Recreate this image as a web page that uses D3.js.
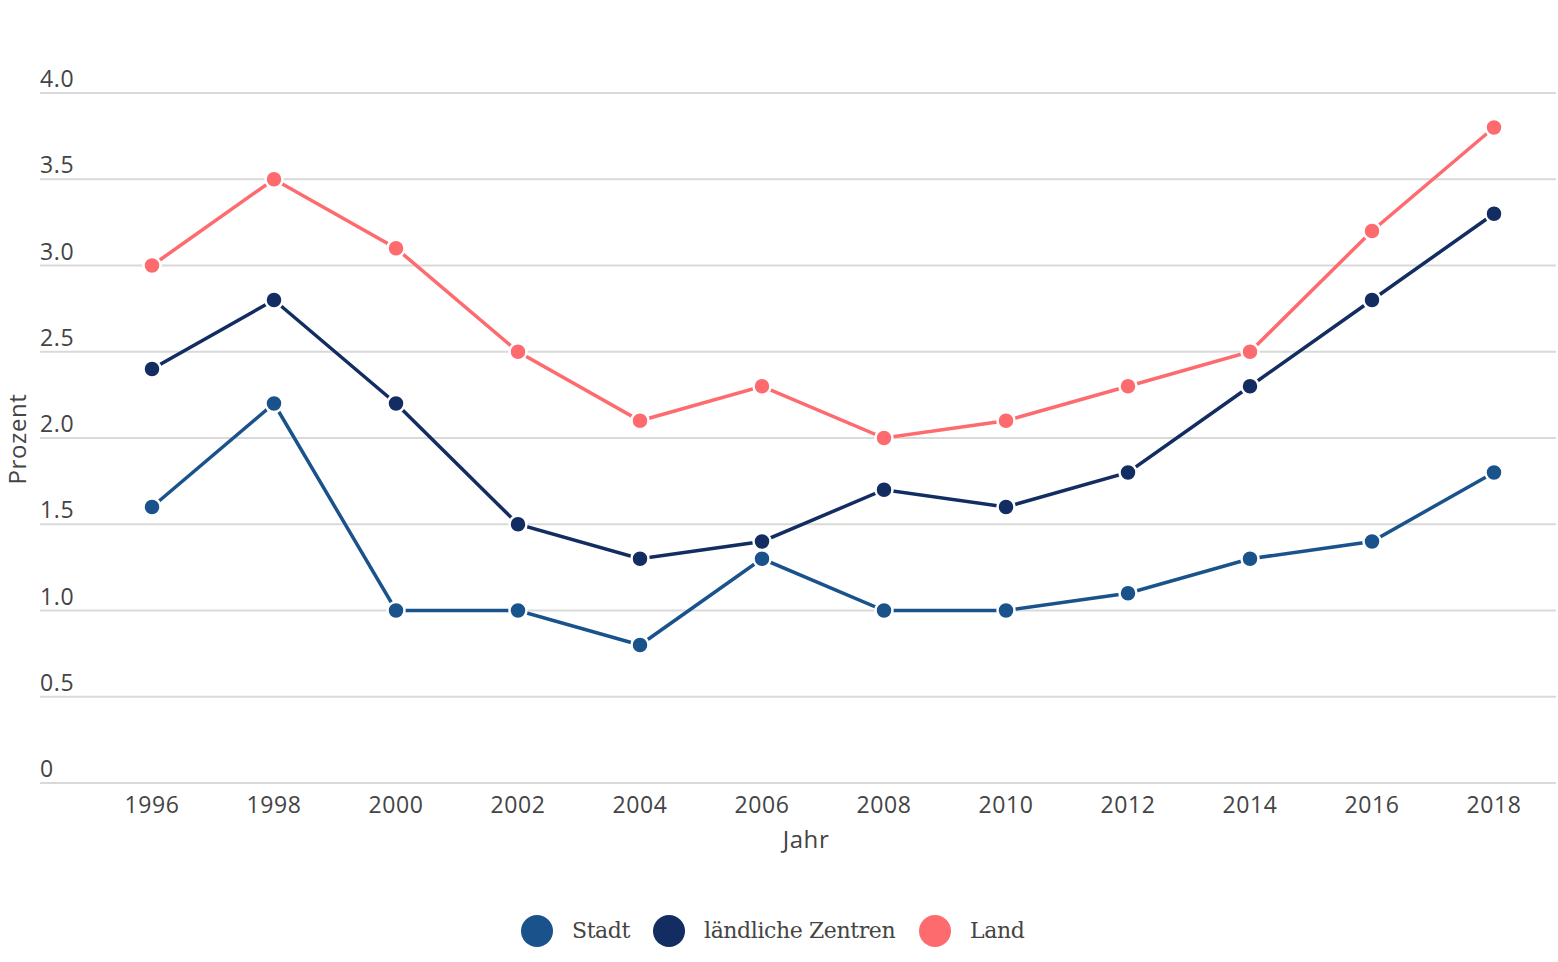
<!DOCTYPE html>
<html>
<head>
<meta charset="utf-8">
<script src="https://cdn.jsdelivr.net/npm/d3@7"></script>
<style>
  body { margin: 0; background: #fff; }
  svg { display: block; }
  .axis text { font-family: "Open Sans", "Lato", sans-serif; fill: #444; letter-spacing: 0.6px; }
</style>
</head>
<body>
<script>
var years = [1996, 1998, 2000, 2002, 2004, 2006, 2008, 2010, 2012, 2014, 2016, 2018];
var stadt = [1.6, 2.2, 1.0, 1.0, 0.8, 1.3, 1.0, 1.0, 1.1, 1.3, 1.4, 1.8];
var zentren = [2.4, 2.8, 2.2, 1.5, 1.3, 1.4, 1.7, 1.6, 1.8, 2.3, 2.8, 3.3];
var land = [3.0, 3.5, 3.1, 2.5, 2.1, 2.3, 2.0, 2.1, 2.3, 2.5, 3.2, 3.8];
var seriesNames = ['Stadt', 'ländliche Zentren', 'Land'];
var yTicks = [0, 0.5, 1.0, 1.5, 2.0, 2.5, 3.0, 3.5, 4.0];

var colors = ['#1a538c', '#132d62', '#fe6b6f'];
var series = [stadt, zentren, land];

var width = 1558, height = 962;
var plotLeft = 40, plotRight = 1556, plotTop = 93, plotBottom = 783;

var svg = d3.select('body').append('svg')
    .attr('width', width)
    .attr('height', height);

var x = d3.scalePoint()
    .domain(years)
    .range([152, 1494]);
var y = d3.scaleLinear()
    .domain([0, 4])
    .range([plotBottom, plotTop]);

// grid + y labels
var yAxis = svg.append('g').attr('class', 'axis');
yAxis.selectAll('line')
    .data(yTicks)
    .enter().append('line')
    .attr('x1', plotLeft)
    .attr('x2', plotRight)
    .attr('y1', function(d) { return y(d); })
    .attr('y2', function(d) { return y(d); })
    .attr('stroke', '#d9d9d9')
    .attr('stroke-width', 2);
yAxis.selectAll('text')
    .data(yTicks)
    .enter().append('text')
    .attr('x', plotLeft)
    .attr('y', function(d) { return y(d) - 6; })
    .attr('font-size', 23)
    .text(function(d) { return d === 0 ? '0' : d3.format('.1f')(d); });

// x labels
var xAxis = svg.append('g').attr('class', 'axis');
xAxis.selectAll('text')
    .data(years)
    .enter().append('text')
    .attr('x', function(d) { return x(d); })
    .attr('y', 813)
    .attr('text-anchor', 'middle')
    .attr('font-size', 23)
    .text(function(d) { return d; });

xAxis.append('text')
    .attr('x', 806)
    .attr('y', 848)
    .attr('text-anchor', 'middle')
    .attr('font-size', 24)
    .text('Jahr');

yAxis.append('text')
    .attr('transform', 'translate(26, 439) rotate(-90)')
    .attr('text-anchor', 'middle')
    .attr('font-size', 24)
    .text('Prozent');

// lines
var line = d3.line()
    .x(function(d, i) { return x(years[i]); })
    .y(function(d) { return y(d); });

series.forEach(function(s, k) {
    var g = svg.append('g');
    g.append('path')
        .datum(s)
        .attr('d', line)
        .attr('fill', 'none')
        .attr('stroke', colors[k])
        .attr('stroke-width', 3.5);
    g.selectAll('circle')
        .data(s)
        .enter().append('circle')
        .attr('cx', function(d, i) { return x(years[i]); })
        .attr('cy', function(d) { return y(d); })
        .attr('r', 8.5)
        .attr('fill', colors[k])
        .attr('stroke', '#fff')
        .attr('stroke-width', 2.5);
});

// legend
var legendX = [537, 669, 935];
var legend = svg.append('g');
legend.selectAll('circle')
    .data(seriesNames)
    .enter().append('circle')
    .attr('cx', function(d, i) { return legendX[i]; })
    .attr('cy', 931)
    .attr('r', 16)
    .attr('fill', function(d, i) { return colors[i]; });
legend.selectAll('text')
    .data(seriesNames)
    .enter().append('text')
    .attr('x', function(d, i) { return legendX[i] + 35; })
    .attr('y', 938)
    .attr('font-family', '"DejaVu Serif", "Liberation Serif", serif')
    .attr('font-size', 22)
    .attr('letter-spacing', -0.4)
    .attr('fill', '#444')
    .text(function(d) { return d; });
</script>
</body>
</html>
